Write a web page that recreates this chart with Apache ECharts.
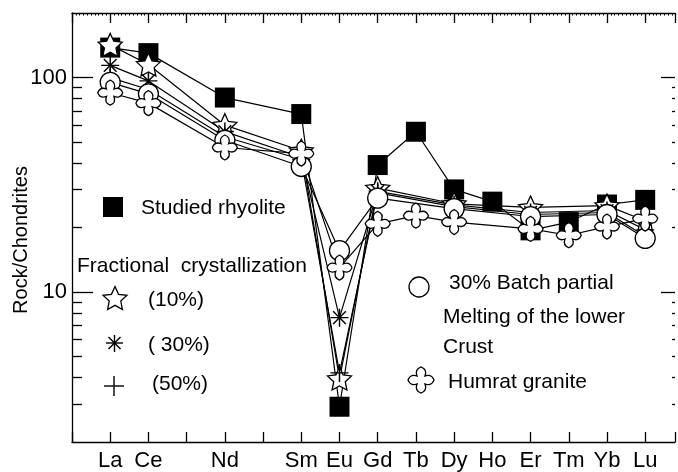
<!DOCTYPE html>
<html><head><meta charset="utf-8">
<script src="https://cdn.jsdelivr.net/npm/echarts@6/dist/echarts.min.js"></script>
<style>html,body{margin:0;padding:0;background:#fff}#c{width:678px;height:472px}</style>
</head><body><div id="c"></div>
<script>
// Element positions (Pr and Pm are unlabeled ticks)
const elements   = ['La','Ce','Pr','Nd','Pm','Sm','Eu','Gd','Tb','Dy','Ho','Er','Tm','Yb','Lu'];
const tickLabels = ['La','Ce','','Nd','','Sm','Eu','Gd','Tb','Dy','Ho','Er','Tm','Yb','Lu'];
const yMajorTicks = [10, 100];
const yMinorTicks = [3,4,5,6,7,8,9,20,30,40,50,60,70,80,90];

// Series values (Rock/Chondrites), null = not plotted
const rhyolite = [138, 130, null, 80.7, null, 67.6, 2.92, 39.1, 55.9, 30.1, 26.4, 19.4, 21.2, 25.6, 26.9];
const fc10     = [142, 115, null, 60,   null, 45.6, 3.95, 30.5, null, 25.8, null, 24.8, null, 25.3, 21.5];
const fc30     = [114, 96.5,null, 56,   null, 42.5, 7.6,  29.5, null, 25.5, null, 23.5, null, 24,   19.5];
const fc50     = [100, 88,  null, 53,   null, 41.5, 4.2,  29,   null, 25,   null, 23,   null, 23.5, 18.2];
const batch    = [95,  84,  null, 51,   null, 38.5, 15.6, 27.4, null, 24.5, null, 22.5, null, 23,   17.8];
const humrat   = [85,  76,  null, 47.2, null, 44.2, 13.0, 20.8, 22.7, 21.2, null, 19.7, 18.4, 20.2, 22];

const FONT = '"Liberation Sans", Arial, Helvetica, sans-serif';
const starPts = [[0,-10],[2.82,-3.88],[9.51,-3.09],[4.57,1.48],[5.88,8.09],[0,4.8],[-5.88,8.09],[-4.57,1.48],[-9.51,-3.09],[-2.82,-3.88]];
const starPath = 'M' + starPts.map(p => p.join(',')).join(' L') + ' Z';
const asterPath = 'M-8,-0.65 L8,-0.65 L8,0.65 L-8,0.65 Z M-0.65,-8 L0.65,-8 L0.65,8 L-0.65,8 Z ' +
  'M-5.2,-6.1 L6.1,5.2 L5.2,6.1 L-6.1,-5.2 Z M-6.1,5.2 L5.2,-6.1 L6.1,-5.2 L-5.2,6.1 Z';
const plusPath = 'M-8,-0.65 L8,-0.65 L8,0.65 L-8,0.65 Z M-0.65,-8 L0.65,-8 L0.65,8 L-0.65,8 Z';
// four-lobed cross with pointed lobe tips
const humPath = 'M-3,-3 Q-5,-8 0,-10 Q5,-8 3,-3 Q8,-5 10,0 Q8,5 3,3 Q5,8 0,10 Q-5,8 -3,3 Q-8,5 -10,0 Q-8,-5 -3,-3 Z';

function pairs(arr){ return arr.map((v,i)=> v==null ? null : [i, v]).filter(Boolean); }

// legend glyph helpers (legend decoration shapes only)
function starPoly(cx, cy, w, h){
  const sx = w / 19.02, sy = h / 18.09;
  return starPts.map(([x,y]) => [cx + x*sx, cy + (y + 0.955)*sy]);
}
function quad(p0, c, p1, n, out){
  for (let k = 1; k <= n; k++){
    const t = k/n, u = 1-t;
    out.push([u*u*p0[0] + 2*u*t*c[0] + t*t*p1[0], u*u*p0[1] + 2*u*t*c[1] + t*t*p1[1]]);
  }
}
function humPoly(cx, cy, size){
  const s = size/20;
  const segs = [[[-3,-3],[-5,-8],[0,-10]],[[0,-10],[5,-8],[3,-3]],[[3,-3],[8,-5],[10,0]],[[10,0],[8,5],[3,3]],
                [[3,3],[5,8],[0,10]],[[0,10],[-5,8],[-3,3]],[[-3,3],[-8,5],[-10,0]],[[-10,0],[-8,-5],[-3,-3]]];
  const pts = [[-3,-3]];
  segs.forEach(([a,c,b]) => quad(a,c,b,8,pts));
  return pts.map(([x,y]) => [cx + x*s, cy + y*s]);
}
function lineG(x1,y1,x2,y2){ return {type:'line', shape:{x1,y1,x2,y2}, style:{stroke:'#000', lineWidth:1.4}}; }

const lineW = 1.2;
function mk(name, arr, symbol, size, fill, z){
  return {
    name, type:'line', data: pairs(arr), symbol, symbolSize: size, z: z,
    showAllSymbol: true,
    lineStyle:{color:'#000', width:lineW},
    itemStyle:{color: fill, borderColor:'#000', borderWidth: (fill === '#000' ? 0 : 1.3)},
    emphasis:{disabled:true}
  };
}

const axisLineStyle = {color:'#000', width:1.3};
const yBase = {type:'log', logBase:10, min:2, max:200, splitLine:{show:false}, axisLine:{show:false, onZero:false}, axisLabel:{show:false}};

const legendText = (x, y, t) => ({type:'text', x, y, style:{text:t, font:'21px ' + FONT, fill:'#000', align:'left', verticalAlign:'middle'}});

const chart = echarts.init(document.getElementById('c'), null, {renderer:'canvas'});
chart.setOption({
  animation:false,
  backgroundColor:'#fff',
  textStyle:{fontFamily:FONT},
  grid:{left:72, right:0, top:13, bottom:30, containLabel:false},
  xAxis:[
    {type:'value', min:-1, max:14.78, interval:1, position:'bottom',
     axisLine:{show:true, onZero:false, lineStyle:axisLineStyle},
     axisTick:{show:true, inside:true, length:10, lineStyle:axisLineStyle},
     axisLabel:{fontSize:22, color:'#000', margin:8, fontFamily:FONT,
       formatter: v => { const i = Math.round(v); return (Math.abs(v-i) < 1e-6 && tickLabels[i]) ? tickLabels[i] : ''; }},
     splitLine:{show:false}},
    {type:'value', min:-1, max:14.78, interval:1, position:'top',
     axisLine:{show:true, onZero:false, lineStyle:axisLineStyle},
     axisTick:{show:true, inside:true, length:10, lineStyle:axisLineStyle},
     minorTick:{show:true, splitNumber:10, length:2.5, lineStyle:{color:'#000', width:1}},
     axisLabel:{show:false}, splitLine:{show:false}}
  ],
  yAxis:[
    Object.assign({}, yBase, {position:'left',
      axisLine:{show:true, onZero:false, lineStyle:axisLineStyle},
      axisTick:{show:true, inside:true, length:21, customValues:yMajorTicks, lineStyle:axisLineStyle},
      axisLabel:{show:true, customValues:yMajorTicks, fontSize:22, color:'#000', margin:5, fontFamily:FONT}}),
    Object.assign({}, yBase, {position:'left',
      axisTick:{show:true, inside:true, length:10, customValues:yMinorTicks, lineStyle:axisLineStyle}}),
    Object.assign({}, yBase, {position:'right',
      axisTick:{show:true, inside:true, length:14, customValues:yMajorTicks, lineStyle:axisLineStyle}}),
    Object.assign({}, yBase, {position:'right',
      axisTick:{show:true, inside:true, length:3, customValues:yMinorTicks, lineStyle:axisLineStyle}})
  ],
  series:[
    mk('Studied rhyolite', rhyolite, 'rect', 20, '#000', 2),
    mk('(10%)', fc10, 'path://' + starPath, [24,23], '#fff', 3),
    mk('( 30%)', fc30, 'path://' + asterPath, [18,18], '#000', 3),
    mk('(50%)', fc50, 'path://' + plusPath, [18,18], '#000', 3),
    mk('30% Batch partial Melting of the lower Crust', batch, 'circle', 20, '#fff', 3),
    mk('Humrat granite', humrat, 'path://' + humPath, [25,25], '#fff', 3)
  ],
  graphic:[
    {type:'text', x:21, y:240, rotation:Math.PI/2, style:{text:'Rock/Chondrites', font:'20px ' + FONT, fill:'#000', align:'center', verticalAlign:'middle'}},
    {type:'rect', shape:{x:103, y:197, width:20, height:20}, style:{fill:'#000'}},
    legendText(141, 208, 'Studied rhyolite'),
    legendText(77, 266, 'Fractional  crystallization'),
    {type:'polygon', shape:{points: starPoly(115, 298, 24, 23)}, style:{fill:'#fff', stroke:'#000', lineWidth:1.3}},
    legendText(148, 300, '(10%)'),
    lineG(106, 343, 123, 343), lineG(114.5, 335, 114.5, 352), lineG(108.5, 337, 120.5, 349), lineG(108.5, 349, 120.5, 337),
    legendText(148, 345, '( 30%)'),
    lineG(104, 386, 124, 386), lineG(114, 376, 114, 396),
    legendText(152, 384, '(50%)'),
    {type:'circle', shape:{cx:419, cy:287, r:10}, style:{fill:'#fff', stroke:'#000', lineWidth:1.3}},
    legendText(449, 283, '30% Batch partial'),
    legendText(443, 317, 'Melting of the lower'),
    legendText(443, 347, 'Crust'),
    {type:'polygon', shape:{points: humPoly(421, 380, 26)}, style:{fill:'#fff', stroke:'#000', lineWidth:1.3}},
    legendText(448, 382, 'Humrat granite')
  ]
});
</script>
</body></html>
